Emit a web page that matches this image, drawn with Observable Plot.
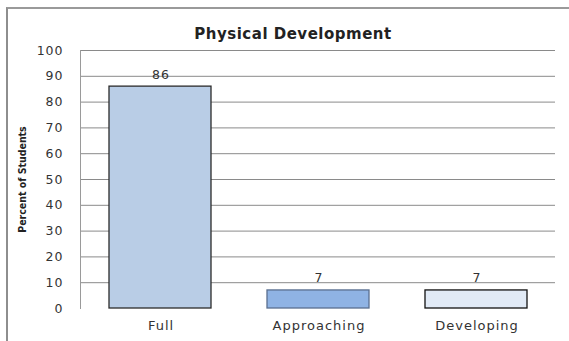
<!DOCTYPE html>
<html>
<head>
<meta charset="utf-8">
<script src="https://cdn.jsdelivr.net/npm/d3@7"></script>
<script src="https://cdn.jsdelivr.net/npm/@observablehq/plot@0.6"></script>
<style>
  html, body { margin: 0; padding: 0; background: #fff; }
  #wrap { position: relative; width: 569px; height: 341px; overflow: hidden; }
  #border { position: absolute; left: 6px; top: 7px; width: 570px; height: 340px;
            border-left: 2px solid #8e8e8e; border-top: 2px solid #9a9a9a; pointer-events: none; }
  svg { display: block; }
  g[aria-label="y-axis tick label"] text { letter-spacing: 1px; }
  g[aria-label="x-axis tick label"] text { letter-spacing: 1px; }
  g.value-labels text { letter-spacing: 1px; }
  g.title-label text { letter-spacing: 0.5px; }
</style>
</head>
<body>
<div id="wrap"><div id="border"></div></div>
<script>
const title = "Physical Development";
const yLabel = "Percent of Students";
const categories = ["Full", "Approaching", "Developing"];
const values = [86, 7, 7];
const yTicks = [0, 10, 20, 30, 40, 50, 60, 70, 80, 90, 100];
const gridValues = [10, 20, 30, 40, 50, 60, 70, 80, 90, 100];
const barFills = ["#b9cde6", "#8fb3e4", "#e1eaf6"];
const barStrokes = ["#2b2b2b", "#5a6f8f", "#111111"];

const data = categories.map((c, i) => ({category: c, value: values[i], fill: barFills[i], stroke: barStrokes[i]}));

const tickFont = "DejaVu Sans, Verdana, sans-serif";

const chart = Plot.plot({
  width: 569,
  height: 341,
  marginLeft: 80,
  marginRight: 14,
  marginTop: 50,
  marginBottom: 33,
  style: {background: "transparent", fontFamily: tickFont},
  x: {type: "band", domain: categories, paddingInner: 0.355, paddingOuter: 0.175, label: null},
  y: {domain: [0, 100], label: null},
  marks: [
    Plot.ruleY(gridValues, {stroke: "#8a8a8a", strokeWidth: 1}),
    Plot.frame({anchor: "left", stroke: "#9a9a9a"}),
    Plot.barY(data, {x: "category", y: "value", fill: "fill", stroke: "stroke", strokeWidth: 1.3}),
    Plot.text(data, {x: "category", y: "value", text: d => String(d.value), dy: -12, dx: 0.5,
      fontSize: 12.5, fill: "#333", fontFamily: tickFont, className: "value-labels"}),
    Plot.axisY({ticks: yTicks, tickSize: 0, tickPadding: 17, fontSize: 12.5, fill: "#333",
      fontFamily: tickFont, label: null}),
    Plot.axisX({tickSize: 0, tickPadding: 12, fontSize: 13, fill: "#333", fontFamily: tickFont,
      dx: 0.5, label: null}),
    Plot.text([yLabel], {frameAnchor: "left", dx: -58, rotate: -90, textAnchor: "middle", fontSize: 10.5,
      fontWeight: "bold", fontFamily: "Liberation Sans Narrow, DejaVu Sans Condensed, sans-serif", fill: "#222"}),
    Plot.text([title], {frameAnchor: "top", dy: -22, dx: -25, fontSize: 15, fontWeight: "bold",
      fontFamily: "DejaVu Sans, sans-serif", fill: "#222", className: "title-label"})
  ]
});
document.getElementById("wrap").prepend(chart);
</script>
</body>
</html>
